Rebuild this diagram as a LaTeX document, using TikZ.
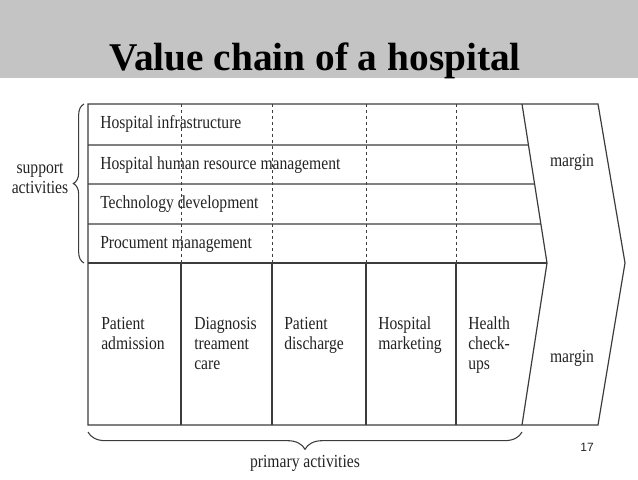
\documentclass[tikz,border=0pt]{standalone}
\usepackage{fontspec}
\setmainfont{Liberation Serif}
\newfontfamily\chartfont[FakeStretch=0.85]{Liberation Serif}
\newfontfamily\numfont{Liberation Sans}
\usepackage{tikz}
\usetikzlibrary{calc, decorations.pathreplacing}
\definecolor{headergray}{RGB}{196,196,196}
\definecolor{linegray}{RGB}{60,60,60}
\definecolor{inkgray}{RGB}{35,35,35}

\begin{document}
\begin{tikzpicture}[x=0.75pt, y=-0.75pt,
        frame/.style={linegray, line width=0.9pt},
        divider/.style={linegray, line width=0.6pt, dash pattern=on 2.5pt off 2pt},
        rowtext/.style={inkgray, anchor=base west, inner sep=0pt, font=\chartfont\fontsize{13.8}{15}\selectfont},
        celltext/.style={rowtext, anchor=north west, align=left},
        bracelabel/.style={rowtext, anchor=center, align=center},
        curly/.style={linegray, line width=0.8pt, decorate, decoration={brace, amplitude=#1}},
        curly/.default=8pt]
        \useasboundingbox (0,0) rectangle (638,479);

        % title band
        \fill[headergray] (0,0) rectangle (638,78);
        \node[black, anchor=base, inner sep=0pt, font=\bfseries\fontsize{29.5}{32}\selectfont] (title) at (315,70) {Value chain of a hospital};

        % chevron corners
        \coordinate (tl) at (88,104);
        \coordinate (bl) at (88,425);
        \coordinate (in1) at (522,104);
        \coordinate (in2) at (547,263);
        \coordinate (in3) at (522,425);
        \coordinate (out1) at (598,104);
        \coordinate (out2) at (625,263);
        \coordinate (out3) at (598,425);

        % outline and support rows
        \draw[frame] (tl) -- (out1) -- (out2) -- (out3) -- (bl) -- cycle;
        \draw[frame] (in1) -- (in2) -- (in3);
        \foreach \y/\f in {145/0.258, 184/0.503, 224/0.755}
            \draw[frame] (88,\y) -- ($(in1)!\f!(in2)$);
        \draw[frame] (88,263) -- (in2);

        % columns
        \foreach \x in {181,272,366,456} {
            \draw[divider] (\x,104) -- (\x,263);
            \draw[frame] (\x,263) -- (\x,425);
        }

        % support activities
        \node[rowtext] (infra) at (100,128) {Hospital infrastructure};
        \node[rowtext] (hrm) at (100,169) {Hospital human resource management};
        \node[rowtext] (tech) at (100,208) {Technology development};
        \node[rowtext] (proc) at (100,248) {Procument management};

        % primary activities
        \node[celltext] (admit) at (101,316) {\vphantom{Hl}Patient\\admission};
        \node[celltext] (diag) at (194,316) {\vphantom{Hl}Diagnosis\\treament\\care};
        \node[celltext] (disch) at (284,316) {\vphantom{Hl}Patient\\discharge};
        \node[celltext] (mkt) at (378,316) {\vphantom{Hl}Hospital\\marketing};
        \node[celltext] (check) at (468,316) {\vphantom{Hl}Health\\check-\\ups};

        % margin
        \node[bracelabel] (marginup) at (572,162) {margin};
        \node[bracelabel] (marginlow) at (572,358) {margin};

        % braces
        \draw[curly=8pt] (84,263) -- (84,104);
        \node[bracelabel] (support) at (40,178) {support\\activities};
        \draw[curly=13pt] (522,432) -- (88,432);
        \node[rowtext, anchor=base] (primary) at (305,467) {primary activities};

        \node[inkgray, inner sep=0pt, font=\numfont\fontsize{9}{10}\selectfont] (pagenum) at (587,447) {17};
\end{tikzpicture}
\end{document}
